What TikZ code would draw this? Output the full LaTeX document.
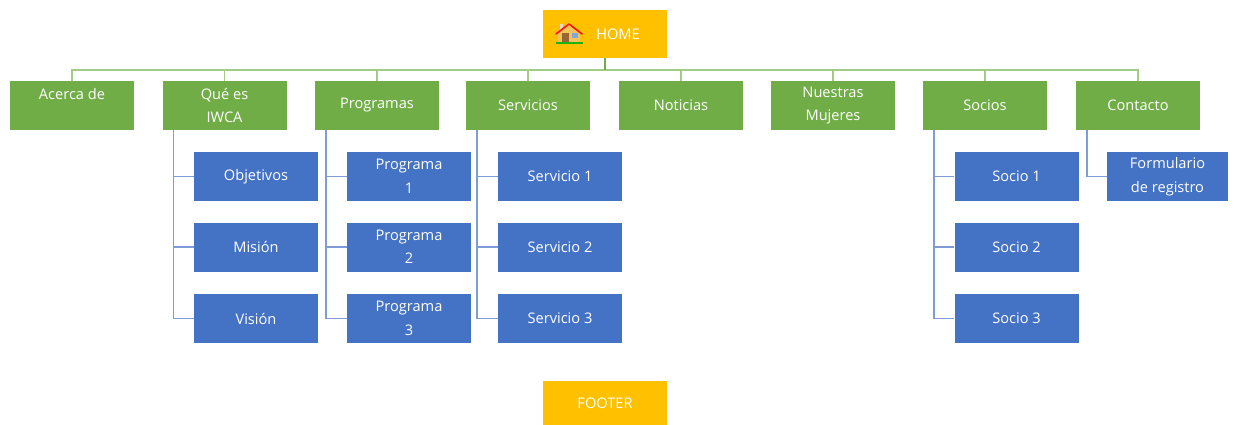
\documentclass[tikz,border=0pt]{standalone}
\usepackage{fontspec}
\setmainfont{Open Sans}
\definecolor{gbox}{HTML}{70AD47}
\definecolor{bbox}{HTML}{4472C4}
\definecolor{obox}{HTML}{FFC000}
\definecolor{gline}{HTML}{A2CB86}
\definecolor{bline}{HTML}{7E9CD6}
\tikzset{
  x=1pt,y=-1pt,
  boxbase/.style={rectangle,minimum width=124pt,minimum height=49pt,inner sep=0pt,align=center,text=white,
    font=\fontsize{14.6}{23.5}\selectfont},
  greenbox/.style={boxbase,fill=gbox},
  bluebox/.style={boxbase,fill=bbox},
  orangebox/.style={boxbase,fill=obox},
  gconn/.style={draw=gline,line width=1.5pt},
  gstem/.style={draw=gbox,line width=2pt},
  bconn/.style={draw=bline,line width=1.4pt},
}
\begin{document}
\begin{tikzpicture}
\useasboundingbox (0,0) rectangle (1241,425);
\node[orangebox,minimum height=48pt] (home) at (605,34) {\hspace*{26pt}HOME};
\node[orangebox,minimum height=44pt] (footer) at (605,403) {FOOTER};
\node[greenbox] (g1) at (72,105.5) {Acerca de\\[-0pt]\mbox{}};
\node[greenbox] (g2) at (224.5,105.5) {Qué es\\IWCA};
\node[greenbox] (g3) at (377,105.5) {Programas};
\node[greenbox] (g4) at (528,105.5) {Servicios};
\node[greenbox] (g5) at (681,105.5) {Noticias};
\node[greenbox] (g6) at (833,105.5) {Nuestras\\Mujeres};
\node[greenbox] (g7) at (985,105.5) {Socios};
\node[greenbox] (g8) at (1138,105.5) {Contacto};
\node[bluebox] (a1) at (256,176.5) {Objetivos};
\node[bluebox] (a2) at (256,247) {Misión};
\node[bluebox] (a3) at (256,318.5) {Visión};
\node[bluebox] (b1) at (409,176.5) {Programa\\1};
\node[bluebox] (b2) at (409,247) {Programa\\2};
\node[bluebox] (b3) at (409,318.5) {Programa\\3};
\node[bluebox] (c1) at (560,176.5) {Servicio 1};
\node[bluebox] (c2) at (560,247) {Servicio 2};
\node[bluebox] (c3) at (560,318.5) {Servicio 3};
\node[bluebox] (d1) at (1016.5,176.5) {Socio 1};
\node[bluebox] (d2) at (1016.5,247) {Socio 2};
\node[bluebox] (d3) at (1016.5,318.5) {Socio 3};
\node[bluebox,minimum width=121pt] (e1) at (1167.5,176.5) {Formulario\\de registro};
\coordinate (bus) at (605,70);
\foreach \g in {g1,g2,g3,g4,g5,g6,g7,g8} \draw[gconn] (bus) -| (\g.north);
\draw[gstem] (home.south) -- (bus);
\foreach \p/\c in {g2/a1,g2/a2,g2/a3,g3/b1,g3/b2,g3/b3,g4/c1,g4/c2,g4/c3,g7/d1,g7/d2,g7/d3,g8/e1}
  \draw[bconn] ([xshift=11pt]\p.south west) |- (\c.west);
% house icon
\fill[gray!40!brown!30] (560,24) rectangle (563,30);
\fill[orange!50!yellow!70!brown!70] (558,32) -- (569,24) -- (580,32) -- (580,42) -- (558,42) -- cycle;
\fill[brown!80!black] (562,33) rectangle (569,42);
\fill[cyan!50!blue!50] (572,33) rectangle (578,38);
\draw[red!85!orange,line width=1.6pt,line cap=round,line join=round] (556,34) -- (569,24) -- (582,34);
\fill[green!70!black!70!gbox] (556,42) rectangle (583,44);
\end{tikzpicture}
\end{document}
